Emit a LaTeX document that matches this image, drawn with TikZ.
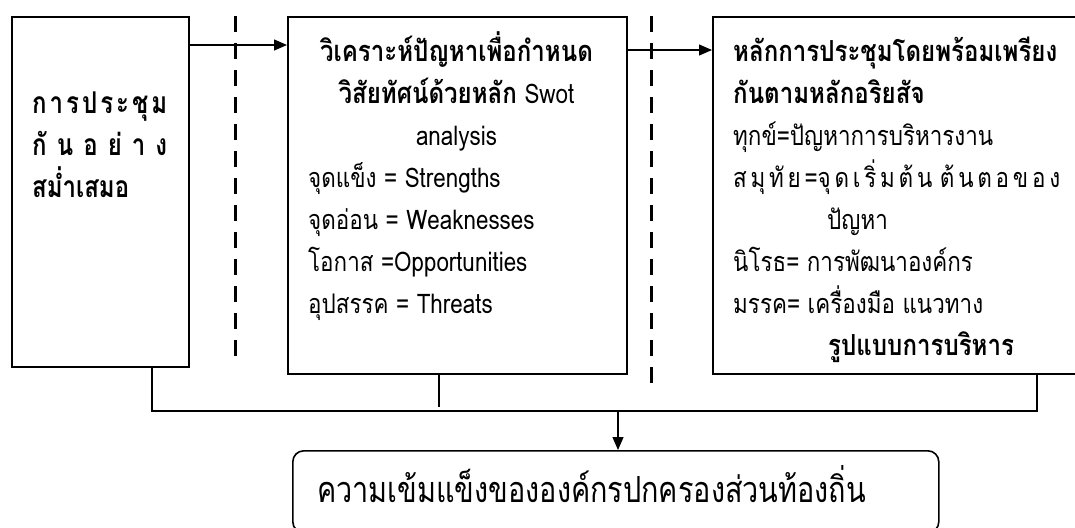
\documentclass[tikz,border=0pt]{standalone}
\usepackage{fontspec}
\setmainfont[Script=Thai]{Loma}
\newfontfamily\rcond[Script=Thai,FakeStretch=0.83]{Loma}
\newfontfamily\cond[Script=Thai,FakeStretch=0.8]{Loma}
\newfontfamily\bcond[Script=Thai,FakeStretch=0.83,UprightFont=*-Bold]{Loma}
\newfontfamily\lcond[Script=Thai,FakeStretch=0.8,UprightFont=*-Bold]{Loma}
\usetikzlibrary{arrows.meta}
\begin{document}
\begin{tikzpicture}[x=1pt,y=-1pt,
  box/.style={draw,line width=1.6pt,inner sep=0pt,anchor=north west},
  txt/.style={inner sep=0pt,anchor=base west,font=\fontsize{27}{31}\selectfont\rcond},
  btxt/.style={txt,font=\fontsize{29}{33}\selectfont\bcond},
  ltxt/.style={txt,font=\fontsize{30}{34}\selectfont\lcond},
  conn/.style={line width=1.2pt},
  arr/.style={conn,-{Triangle[length=13pt,width=11pt]}},
  sepline/.style={line width=3pt,dash pattern=on 16pt off 11pt}]
\clip (0,0) rectangle (1075,527);
% boxes
\node[box,minimum width=177pt,minimum height=350pt] (L) at (11,16) {};
\node[box,minimum width=339pt,minimum height=357pt] (M) at (287,16) {};
\node[box,minimum width=420pt,minimum height=357pt] (R) at (712,16) {};
\node[box,rounded corners=11pt,minimum width=646pt,minimum height=82pt] (B) at (292,450) {};
% separators
\draw[sepline] (235,16) -- (235,367);
\draw[sepline] (651,16) -- (651,385);
% left text
\node[ltxt] (l1) at (32,113) {\makebox[135pt][s]{ก\hfill า\hfill ร\hfill ป\hfill ร\hfill ะ\hfill ชุ\hfill ม}};
\node[ltxt] (l2) at (32,155) {\makebox[135pt][s]{กั\hfill น\hfill อ\hfill ย่\hfill า\hfill ง}};
\node[ltxt] (l3) at (32,197) {สม่ำเสมอ};
% middle text
\node[btxt,anchor=base] (m1) at (456.5,61) {วิเคราะห์ปัญหาเพื่อกำหนด};
\node[txt,anchor=base] (m2) at (456.5,103) {{\fontsize{29}{33}\selectfont\bcond วิสัยทัศน์ด้วยหลัก} Swot};
\node[txt,anchor=base] (m3) at (456.5,145) {analysis};
\node[txt] (m4) at (308,187) {จุดแข็ง = Strengths};
\node[txt] (m5) at (308,229) {จุดอ่อน = Weaknesses};
\node[txt] (m6) at (308,271) {โอกาส =Opportunities};
\node[txt] (m7) at (308,313) {อุปสรรค = Threats};
% right text
\node[btxt] (r1) at (733,61) {หลักการประชุมโดยพร้อมเพรียง};
\node[btxt] (r2) at (733,103) {กันตามหลักอริยสัจ};
\node[txt] (r3) at (733,145) {ทุกข์=ปัญหาการบริหารงาน};
\node[txt] (r4) at (733,187) {\makebox[327pt][s]{ส\hfill มุ\hfill ทั\hfill ย\hfill =จุ\hfill ด\hfill เ\hfill ริ่\hfill ม\hfill ต้\hfill น\hfill\hfill ต้\hfill น\hfill ต\hfill อ\hfill ข\hfill อ\hfill ง}};
\node[txt] (r5) at (827,229) {ปัญหา};
\node[txt] (r6) at (733,271) {นิโรธ= การพัฒนาองค์กร};
\node[txt] (r7) at (733,313) {มรรค= เครื่องมือ แนวทาง};
\node[btxt] (r8) at (828,355) {รูปแบบการบริหาร};
% bottom text
\node[inner sep=0pt,anchor=base west,font=\fontsize{36}{40}\selectfont\cond] (b1) at (317,502) {ความเข้มแข็งขององค์กรปกครองส่วนท้องถิ่น};
% connectors
\draw[arr] (L.east |- 0,45) -- (M.west |- 0,45);
\draw[arr] (M.east |- 0,50) -- (R.west |- 0,50);
\coordinate (hl) at (152,411);
\coordinate (hr) at (1037,411);
\coordinate (hm) at (618,411);
\draw[conn] (152,0 |- L.south) -- (hl) -- (hr) -- (1037,0 |- R.south);
\draw[conn] (439,0 |- M.south) -- (439,407);
\draw[arr] (hm) -- (hm |- B.north);
\end{tikzpicture}
\end{document}
